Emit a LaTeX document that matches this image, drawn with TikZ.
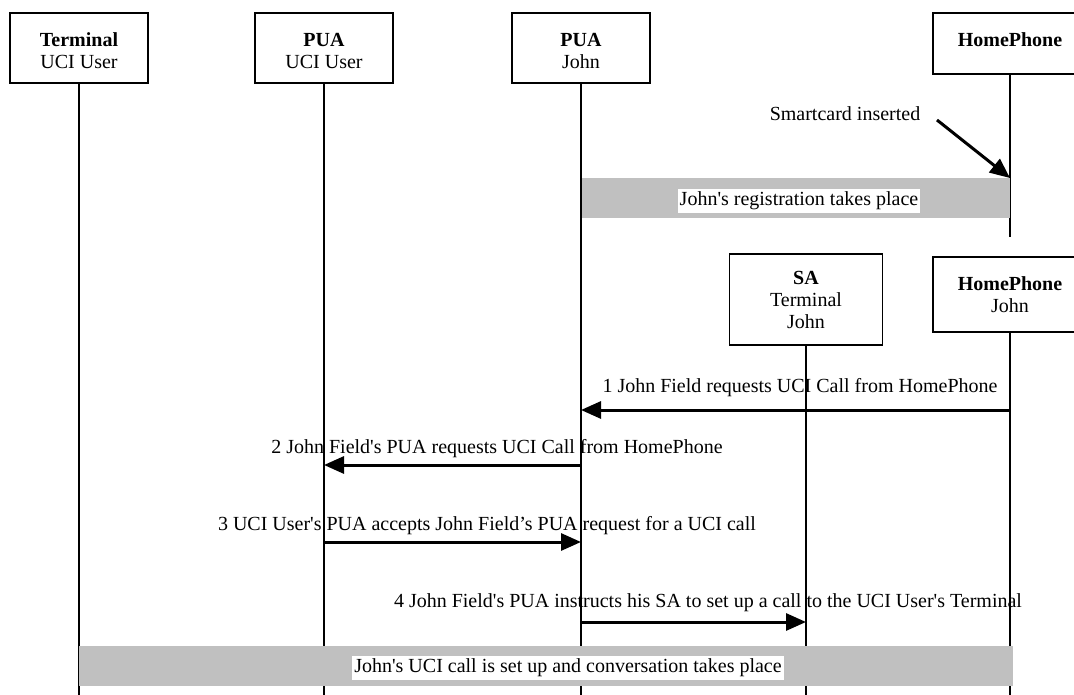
\documentclass[tikz,border=0pt]{standalone}
\usepackage{fontspec}
\setmainfont{Liberation Serif}
\usepackage{tikz}
\usetikzlibrary{arrows.meta}
\definecolor{bargray}{RGB}{192,192,192}
\newcommand{\topgap}{\rule{0pt}{20pt}}
\tikzset{
	entity/.style={draw,line width=1.3pt,align=center,inner sep=0pt},
	life/.style={line width=1.3pt},
	msg/.style={line width=3pt,-{Triangle[length=20pt,width=17pt]}},
	lbl/.style={inner sep=0pt},
	barlbl/.style={fill=white,inner xsep=2pt,inner ysep=3pt}
}
\begin{document}
\begin{tikzpicture}[x=1pt,y=-1pt,font=\fontsize{20}{22}\selectfont]
			\useasboundingbox (0,0) rectangle (1074,695);
			\node[entity,minimum width=138pt,minimum height=70pt] (term) at (79,48) {\topgap\textbf{Terminal}\\UCI User};
			\node[entity,minimum width=138pt,minimum height=70pt] (puau) at (324,48) {\topgap\textbf{PUA}\\UCI User};
			\node[entity,minimum width=138pt,minimum height=70pt] (puaj) at (581,48) {\topgap\textbf{PUA}\\John};
			\node[entity,minimum width=154pt,minimum height=61pt] (hp) at (1010,43.5) {\textbf{HomePhone}\rule[-7pt]{0pt}{0pt}};
			\node[entity,minimum width=153pt,minimum height=91pt] (sa) at (806,299.5) {\textbf{SA}\\Terminal\\John};
			\node[entity,minimum width=154pt,minimum height=75pt] (hpj) at (1010,294.5) {\textbf{HomePhone}\\John};
			\coordinate (bot) at (0,695);
			\coordinate (hpend) at (1010,237);
			\foreach \n in {term,puau,puaj,sa,hpj}
				\draw[life] (\n.south) -- (\n.south |- bot);
			\draw[life] (hp.south) -- (hpend);

			\coordinate (card) at (937,120);
			\node[lbl] (cardlbl) at (845,114) {Smartcard inserted};
			\fill[bargray] (puaj.south |- 0,178) rectangle (hp.south |- 0,218);
			\draw[life] (puaj.south |- 0,170) -- (puaj.south |- 0,225);
			\node[barlbl] (reg) at (799,201) {John\textquotesingle s registration takes place};
			\draw[msg] (card) -- (hp.south |- 0,178);

			\coordinate (m1a) at (hpj.south |- 0,410);
			\coordinate (m1b) at (puaj.south |- 0,410);
			\coordinate (m2a) at (puaj.south |- 0,465);
			\coordinate (m2b) at (puau.south |- 0,465);
			\coordinate (m3a) at (puau.south |- 0,542);
			\coordinate (m3b) at (puaj.south |- 0,542);
			\coordinate (m4a) at (puaj.south |- 0,622);
			\coordinate (m4b) at (sa.south |- 0,622);
			\draw[msg] (m1a) -- (m1b);
			\draw[msg] (m2a) -- (m2b);
			\draw[msg] (m3a) -- (m3b);
			\draw[msg] (m4a) -- (m4b);
			\node[lbl] (l1) at (800,388) {1 John Field requests UCI Call from HomePhone};
			\node[lbl] (l2) at (497,449) {2 John Field\textquotesingle s PUA requests UCI Call from HomePhone};
			\node[lbl] (l3) at (487,526) {3 UCI User\textquotesingle s PUA accepts John Field’s PUA request for a UCI call};
			\node[lbl] (l4) at (708,603) {4 John Field\textquotesingle s PUA instructs his SA to set up a call to the UCI User\textquotesingle s Terminal};

			\fill[bargray] (term.south |- 0,646) rectangle (1013,686);
			\node[barlbl] (conv) at (568,668) {John\textquotesingle s UCI call is set up and conversation takes place};
		\end{tikzpicture}
\end{document}
